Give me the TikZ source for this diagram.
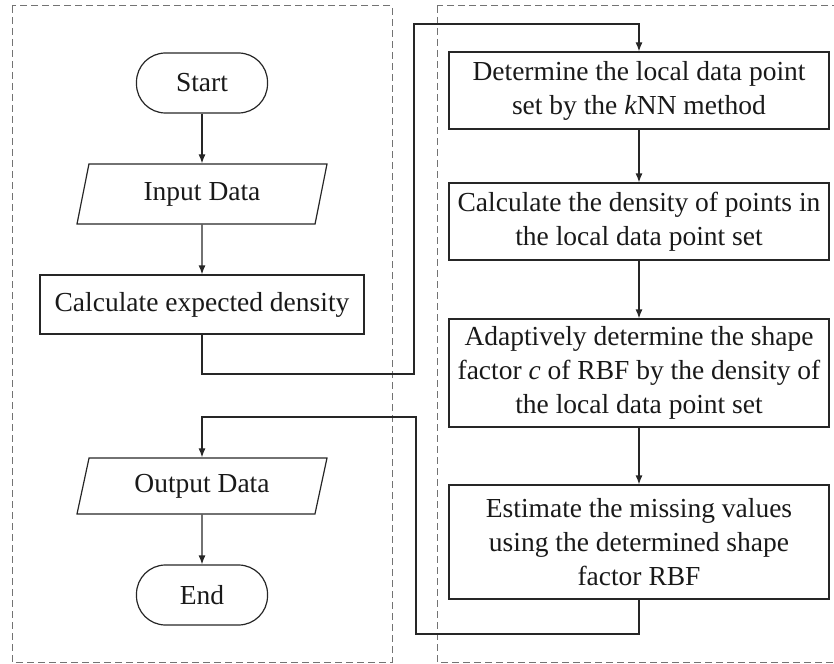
\documentclass[tikz,border=0pt]{standalone}
\usepackage{fontspec}
\setmainfont{Liberation Serif}
\usepackage{tikz}
\usetikzlibrary{shapes.geometric,arrows.meta}

\tikzset{
  region/.style={draw=black!55, line width=1pt, dash pattern=on 7pt off 4pt},
  flow/.style={draw=black!85, line width=1.2pt, -{Latex[length=9pt,width=7pt]}},
}

\begin{document}
\begin{tikzpicture}[x=1pt,y=-1pt,
    every node/.style={font=\fontsize{27.5}{34}\selectfont, text=black!90},
    termbox/.style={draw=black!85, line width=1.2pt, rounded corners=29pt,
      minimum width=131pt, minimum height=60pt, inner sep=0pt},
    iobox/.style={draw=black!85, line width=1.2pt, trapezium,
      trapezium left angle=63.4, trapezium right angle=116.6,
      trapezium stretches body, minimum width=250pt, inner sep=0pt},
    procbox/.style={draw=black!85, line width=1.2pt,
      minimum width=324pt, minimum height=59pt},
    stepbox/.style={draw=black!85, line width=1.2pt, align=center,
      minimum width=380pt, inner sep=4pt}]
  \useasboundingbox (0,0) rectangle (834,663);
  % the two dashed regions
  \draw[region] (12,6) rectangle (392,662);
  \draw[region] (437,6) rectangle (840,662);
  % left column
  \node[termbox] (start) at (202,83) {Start};
  \node[iobox, minimum height=60pt] (input) at (202,194) {Input Data};
  \node[procbox] (calc) at (202,304.5) {Calculate expected density};
  \node[iobox, minimum height=56pt] (output) at (202,486) {Output Data};
  \node[termbox] (end) at (202,595) {End};
  % right column
  \node[stepbox, minimum height=77pt] (knn) at (639,90.5)
    {Determine the local data point\\set by the \textit{k}NN method};
  \node[stepbox, minimum height=77pt] (dens) at (639,221.5)
    {Calculate the density of points in\\the local data point set};
  \node[stepbox, minimum height=108pt] (shape) at (639,373)
    {Adaptively determine the shape\\factor \textit{c} of RBF by the density of\\the local data point set};
  \node[stepbox, minimum height=114pt] (est) at (639,542)
    {Estimate the missing values\\using the determined shape\\factor RBF};
  % bends of the two long connectors
  \coordinate (up1) at (414,374);
  \coordinate (up2) at (414,24);
  \coordinate (back1) at (416,634);
  \coordinate (back2) at (416,417);
  % connectors
  \draw[flow] (start) -- (input);
  \draw[flow] (input) -- (calc);
  \draw[flow] (calc.south) |- (up1) -- (up2) -| (knn.north);
  \draw[flow] (knn) -- (dens);
  \draw[flow] (dens) -- (shape);
  \draw[flow] (shape) -- (est);
  \draw[flow] (est.south) |- (back1) -- (back2) -| (output.north);
  \draw[flow] (output) -- (end);
\end{tikzpicture}
\end{document}
